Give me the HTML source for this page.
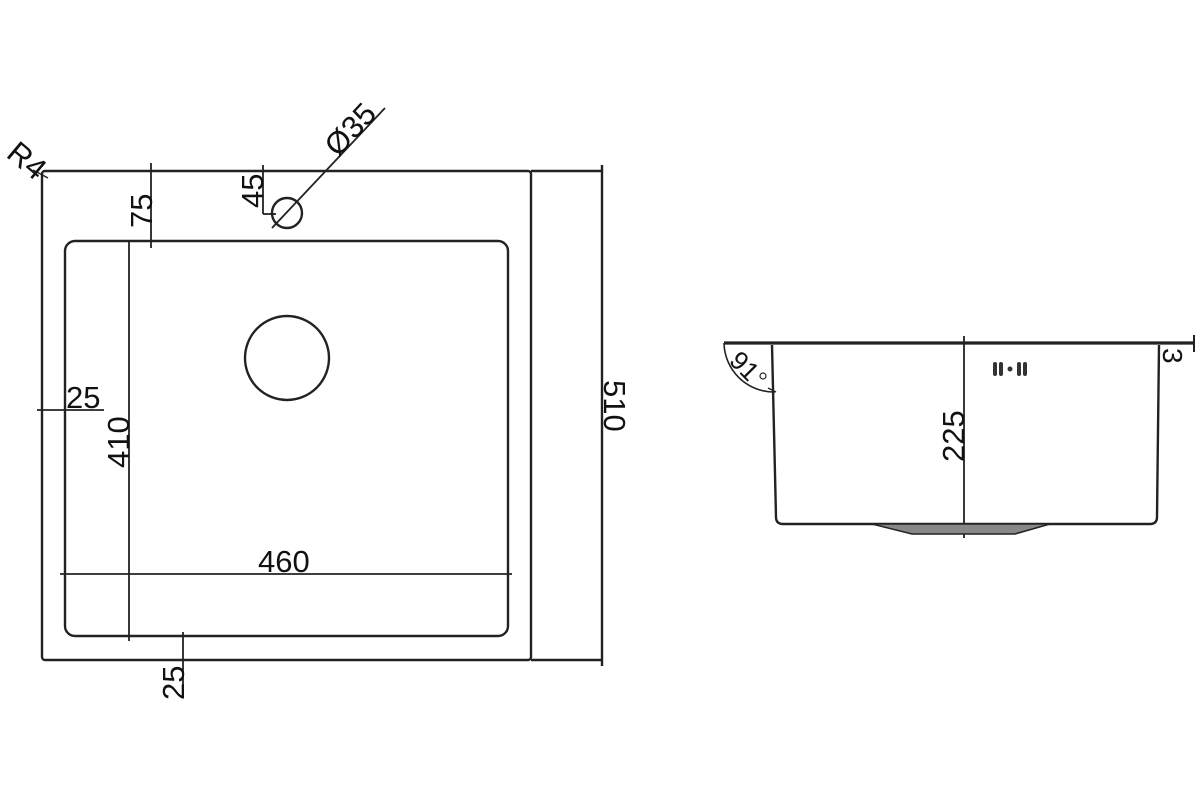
<!DOCTYPE html>
<html><head><meta charset="utf-8"><style>
html,body{margin:0;padding:0;background:#fff;width:1200px;height:800px;overflow:hidden}
text{font-family:"Liberation Sans",sans-serif;fill:#111}
</style></head><body>
<svg width="1200" height="800" viewBox="0 0 1200 800" xmlns="http://www.w3.org/2000/svg">
<g stroke="#222" fill="none" stroke-width="2.4">
<rect x="42" y="171" width="489" height="489" rx="3"/>
<line x1="531" y1="171" x2="603" y2="171"/>
<line x1="531" y1="660" x2="603" y2="660"/>
<line x1="602" y1="165" x2="602" y2="666"/>
<rect x="65" y="241" width="443" height="395" rx="10"/>
<circle cx="287" cy="358" r="42"/>
<circle cx="287" cy="213" r="15"/>
<line x1="129" y1="241" x2="129" y2="641" stroke-width="1.8"/>
<line x1="60" y1="574" x2="512" y2="574" stroke-width="1.8"/>
<line x1="37" y1="410" x2="104" y2="410" stroke-width="1.8"/>
<line x1="183" y1="632" x2="183" y2="698" stroke-width="1.8"/>
<line x1="151" y1="163" x2="151" y2="248" stroke-width="1.8"/>
<line x1="263" y1="165" x2="263" y2="214" stroke-width="1.8"/>
<line x1="263" y1="214" x2="276" y2="214" stroke-width="1.8"/>
<line x1="263" y1="171" x2="285" y2="171" stroke-width="1.8"/>
<line x1="272" y1="228" x2="385" y2="108" stroke-width="1.8"/>
<line x1="33" y1="170" x2="48" y2="178" stroke-width="1.4"/>
<line x1="724" y1="343" x2="1194" y2="343" stroke-width="3.2"/>
<line x1="1194" y1="335" x2="1194" y2="352" stroke-width="2"/>
<path d="M772 345 L776 517 Q776 524 783 524 L1150 524 Q1157 524 1157 517 L1159 345"/>
<line x1="964" y1="336" x2="964" y2="538" stroke-width="1.8"/>
<path d="M724 343 A50 50 0 0 0 775 392" stroke-width="1.6"/>
<line x1="768" y1="388" x2="776" y2="392" stroke-width="1.4"/>
</g>
<path d="M872 524 L1050 524 L1015 534 L912 534 Z" fill="#888" stroke="#222" stroke-width="1.5"/>
<g fill="#333">
<rect x="993" y="362" width="4" height="14" rx="2"/><rect x="999" y="362" width="4" height="14" rx="2"/>
<circle cx="1010" cy="369" r="2.5"/>
<rect x="1017" y="362" width="4" height="14" rx="2"/><rect x="1023" y="362" width="4" height="14" rx="2"/>
</g>
<text font-size="31" transform="translate(5,156) rotate(40)">R4</text>
<text font-size="31" transform="translate(152,228) rotate(-90)">75</text>
<text font-size="31" transform="translate(263,208) rotate(-90)">45</text>
<text font-size="31" transform="translate(338,158) rotate(-47)">Ø35</text>
<text font-size="31" x="66" y="408">25</text>
<text font-size="31" transform="translate(129,468) rotate(-90)">410</text>
<text font-size="31" x="258" y="572">460</text>
<text font-size="31" transform="translate(184,700) rotate(-90)">25</text>
<text font-size="31" transform="translate(604,380) rotate(90)">510</text>
<text font-size="31" transform="translate(964,462) rotate(-90)">225</text>
<text font-size="28" transform="translate(1163,348) rotate(90)">3</text>
<text font-size="26" transform="translate(728,362) rotate(45)">91</text>
<circle cx="763" cy="376" r="3" fill="none" stroke="#222" stroke-width="1.2"/>
</svg>
</body></html>
